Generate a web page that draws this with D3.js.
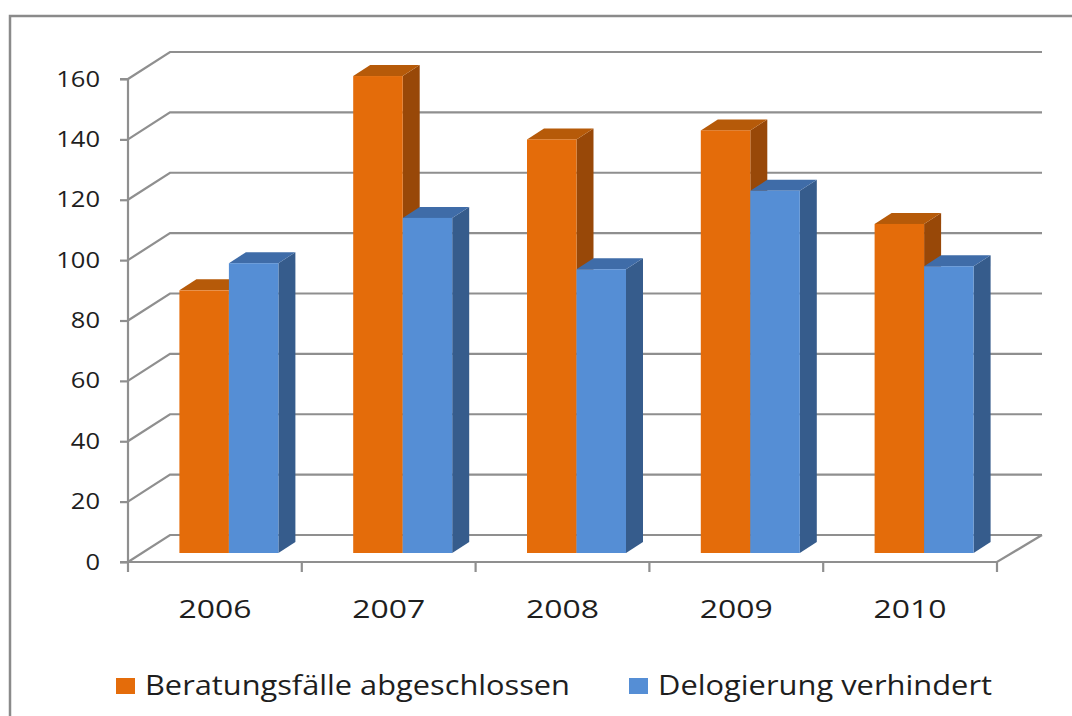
<!DOCTYPE html>
<html>
<head>
<meta charset="utf-8">
<script src="https://cdn.jsdelivr.net/npm/d3@7/dist/d3.min.js"></script>
<style>
  html, body { margin: 0; padding: 0; background: #fff; }
  svg { display: block; }
  text { font-family: "Open Sans", "DejaVu Sans", sans-serif; fill: #1e1e1e; }
</style>
</head>
<body>
<svg id="chart" width="1072" height="716"></svg>
<script>
// ---- data ----
const years = ["2006", "2007", "2008", "2009", "2010"];
const seriesNames = ["Beratungsfälle abgeschlossen", "Delogierung verhindert"];
const beratung = [87, 158, 137, 140, 109];
const delogierung = [96, 111, 94, 120, 95];
const yTicks = [0, 20, 40, 60, 80, 100, 120, 140, 160];

// ---- styles ----
const faceColors = [
  { front: "#E46C0A", top: "#B65A09", side: "#984808" },
  { front: "#558ED5", top: "#3F6CA8", side: "#365C8C" }
];
const gridColor = "#8f8f8f";

const svg = d3.select("#chart");

// outer border
svg.append("path")
  .attr("d", "M1080,16 L10,16 L10,730")
  .attr("fill", "none").attr("stroke", "#8a8a8a").attr("stroke-width", 2.5);

// geometry
const x0 = 128, x1 = 997;
const depthX = 42, depthY = -27;           // back wall offset
const barOffX = 14, barOffY = -9;          // bar front plane offset
const barDX = 17, barDY = -11;             // bar depth
const backRight = 1042;

const y = d3.scaleLinear().domain([0, 160]).range([562, 79]);
const x = d3.scaleBand().domain(years).range([x0, x1]).padding(0);
const xs = d3.scaleBand().domain([0, 1]).range([0, 99]).padding(0);

// gridlines (left wall diagonal + back wall horizontal)
const grid = svg.append("g");
yTicks.forEach(t => {
  grid.append("polyline")
    .attr("points", [[x0, y(t)], [x0 + depthX, y(t) + depthY], [backRight, y(t) + depthY]].map(p => p.join(",")).join(" "))
    .attr("fill", "none").attr("stroke", gridColor).attr("stroke-width", 2.2);
});
// floor front and right edges
grid.append("polyline")
  .attr("points", [[x0, y(0)], [x1, y(0)], [backRight, y(0) + depthY]].map(p => p.join(",")).join(" "))
  .attr("fill", "none").attr("stroke", gridColor).attr("stroke-width", 2.2);

// y axis
const yAxis = d3.axisLeft(y).tickValues(yTicks).tickSize(8).tickPadding(20).tickFormat(d3.format("d"));
const gy = svg.append("g").attr("transform", `translate(${x0},0)`).call(yAxis);
gy.select(".domain").attr("stroke", gridColor).attr("stroke-width", 2.2).attr("d", `M-8,${y(0)}H0V${y(160)}H-8`);
gy.selectAll(".tick line").attr("stroke", gridColor).attr("stroke-width", 2.2);
gy.selectAll(".tick text")
  .attr("font-size", 22).attr("fill", "#1e1e1e")
  .attr("font-family", "'Open Sans', sans-serif")
  .attr("textLength", d => String(d).length * 14.6)
  .attr("lengthAdjust", "spacingAndGlyphs");

// x axis
const xAxis = d3.axisBottom(x).tickSize(10).tickSizeOuter(0).tickPadding(28);
const gx = svg.append("g").attr("transform", `translate(0,${y(0)})`).call(xAxis);
gx.select(".domain").remove();
gx.selectAll(".tick line").remove();
const boundaries = years.map(d => x(d)).concat([x1]);
gx.selectAll(".bnd").data(boundaries).enter().append("line")
  .attr("x1", d => d).attr("x2", d => d).attr("y1", 0).attr("y2", 10)
  .attr("stroke", gridColor).attr("stroke-width", 2.2);
gx.selectAll(".tick text")
  .attr("font-size", 25).attr("fill", "#1e1e1e")
  .attr("font-family", "'Open Sans', sans-serif")
  .attr("textLength", 73).attr("lengthAdjust", "spacingAndGlyphs");

// bars
const barsG = svg.append("g");
const yBar = v => y(v) + barOffY;
years.forEach((yr, i) => {
  const vals = [beratung[i], delogierung[i]];
  const cx = x(yr) + x.bandwidth() / 2 + barOffX;
  vals.forEach((v, s) => {
    const bx = cx - 49.5 + xs(s);
    const bw = xs.bandwidth();
    const yt = yBar(v), yb = yBar(0);
    const c = faceColors[s];
    // side
    barsG.append("path")
      .attr("d", `M${bx + bw},${yb} L${bx + bw + barDX},${yb + barDY} L${bx + bw + barDX},${yt + barDY} L${bx + bw},${yt} Z`)
      .attr("fill", c.side);
    // top
    barsG.append("path")
      .attr("d", `M${bx},${yt} L${bx + barDX},${yt + barDY} L${bx + bw + barDX},${yt + barDY} L${bx + bw},${yt} Z`)
      .attr("fill", c.top);
    // front
    barsG.append("rect")
      .attr("x", bx).attr("y", yt).attr("width", bw).attr("height", yb - yt)
      .attr("fill", c.front);
  });
});

// legend
const legend = svg.append("g");
const legendItems = [
  { x: 116, textW: 425 },
  { x: 629, textW: 334 }
];
seriesNames.forEach((name, s) => {
  const it = legendItems[s];
  legend.append("rect")
    .attr("x", it.x).attr("y", 678).attr("width", 19).attr("height", 16)
    .attr("fill", faceColors[s].front);
  legend.append("text")
    .attr("x", it.x + 29).attr("y", 695)
    .attr("font-size", 27)
    .attr("textLength", it.textW).attr("lengthAdjust", "spacingAndGlyphs")
    .text(name);
});
</script>
</body>
</html>
